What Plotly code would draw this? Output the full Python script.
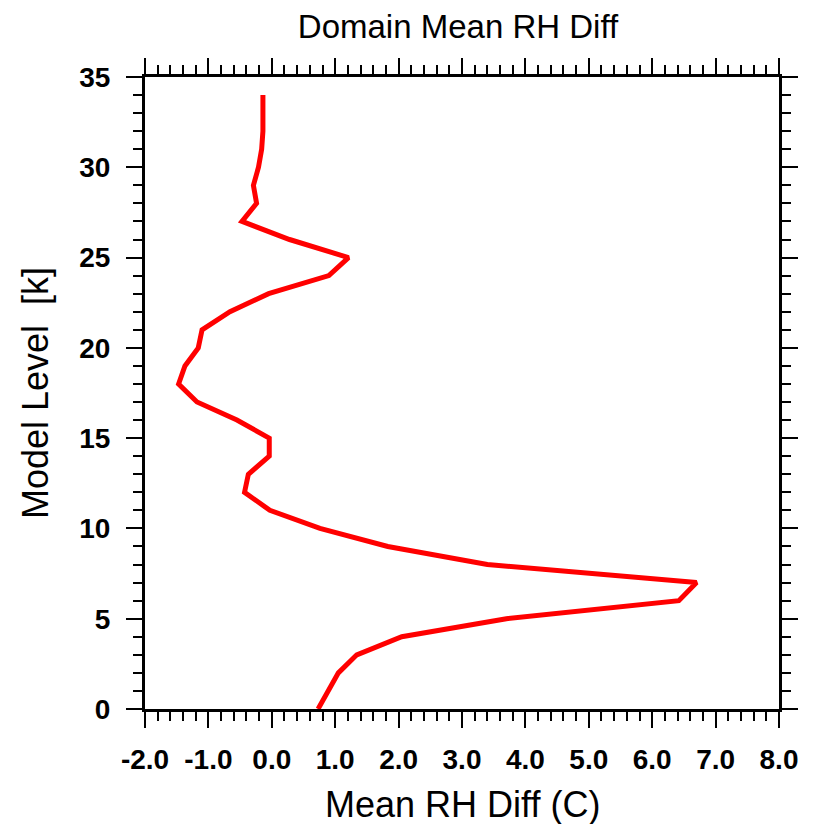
import plotly.graph_objects as go

# Model levels (k) and domain-mean RH difference
model_level = list(range(0, 35))
mean_rh_diff = [0.73, 0.89, 1.05, 1.34, 2.05, 3.70, 6.42, 6.70, 3.40, 1.83,
                0.76, -0.03, -0.43, -0.37, -0.04, -0.04, -0.55, -1.18, -1.47, -1.37,
                -1.16, -1.10, -0.66, -0.05, 0.90, 1.21, 0.28, -0.47, -0.24, -0.29,
                -0.21, -0.16, -0.14, -0.14, -0.14]

x_tick_vals = [-2, -1, 0, 1, 2, 3, 4, 5, 6, 7, 8]
x_tick_text = ["-2.0", "-1.0", "0.0", "1.0", "2.0", "3.0", "4.0", "5.0", "6.0", "7.0", "8.0"]
y_tick_vals = [0, 5, 10, 15, 20, 25, 30, 35]
y_tick_text = ["0", "5", "10", "15", "20", "25", "30", "35"]

FONT = "Liberation Sans"
OFF = 8  # page body margin

fig = go.Figure()
fig.add_trace(go.Scatter(
    x=mean_rh_diff, y=model_level, mode="lines",
    line=dict(color="#ff0000", width=5),
    showlegend=False,
))

axis_common = dict(
    showgrid=False, zeroline=False,
    showline=True, linecolor="black", linewidth=3, mirror="allticks",
    ticks="outside", ticklen=16, tickwidth=2, tickcolor="black",
    tickfont=dict(family=FONT, size=28, color="black", weight="bold"),
)

fig.update_xaxes(
    range=[-2, 8], tickvals=x_tick_vals, ticktext=x_tick_text,
    minor=dict(dtick=0.2, ticklen=9, tickwidth=2, tickcolor="black", ticks="outside"),
    ticklabelstandoff=7,
    **axis_common,
)
fig.update_yaxes(
    range=[0, 35], tickvals=y_tick_vals, ticktext=y_tick_text,
    minor=dict(dtick=1, ticklen=9, tickwidth=2, tickcolor="black", ticks="outside"),
    ticklabelstandoff=10,
    **axis_common,
)

W, H = 814 - OFF, 824 - OFF
fig.update_layout(
    width=W, height=H,
    margin=dict(l=145 - OFF, r=W - (779 - OFF), t=77 - OFF, b=H - (709 - OFF)),
    paper_bgcolor="white", plot_bgcolor="white",
    title=dict(text="Domain Mean RH Diff", x=(458 - OFF) / W, xanchor="center",
               y=1 - (26 - OFF) / H, yanchor="middle", yref="container",
               font=dict(family=FONT, size=33, color="black")),
    annotations=[
        dict(text="Mean RH Diff (C)", xref="paper", yref="paper",
             x=0.5, y=(709 - 804) / 632, xanchor="center", yanchor="middle",
             showarrow=False, font=dict(family=FONT, size=36, color="black")),
        dict(text="Model Level  [k]", xref="paper", yref="paper",
             x=(35 - 145) / 634, y=0.5, xanchor="center", yanchor="middle",
             textangle=-90, showarrow=False,
             font=dict(family=FONT, size=36, color="black")),
    ],
)

fig.write_html("out.html")
